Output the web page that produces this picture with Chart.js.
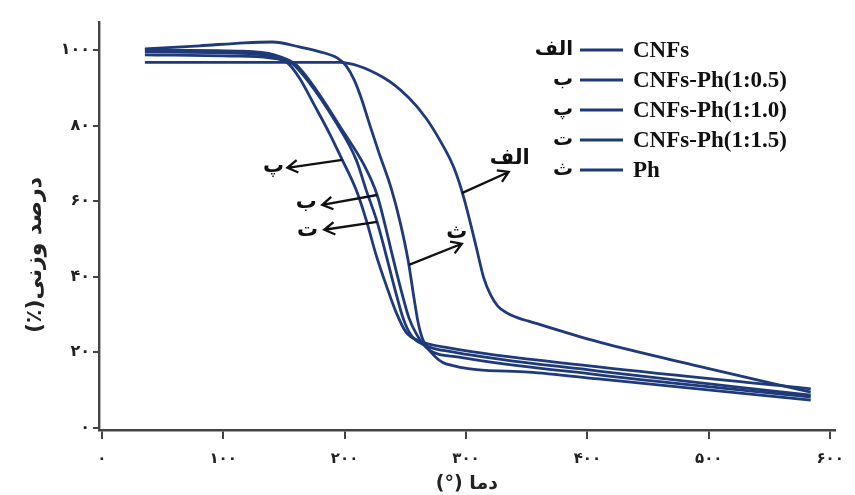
<!DOCTYPE html>
<html>
<head>
<meta charset="utf-8">
<script src="https://cdn.jsdelivr.net/npm/chart.js@4/dist/chart.umd.min.js"></script>
<style>
  html, body { margin: 0; padding: 0; background: #fff; }
</style>
</head>
<body>
<canvas id="tga" width="855" height="495"></canvas>
<script>
// series names and their Persian tags (legend + arrows)
const seriesNames = ["CNFs", "CNFs-Ph(1:0.5)", "CNFs-Ph(1:1.0)", "CNFs-Ph(1:1.5)", "Ph"];
const seriesTags = ["الف", "ب", "پ", "ت", "ث"];

// temperature (°C) / weight (%)
const tempCNFs = [35.5, 195.6, 230.9, 253.1, 267.0, 279.4, 290.1, 298.3, 308.1, 314.7, 320.4, 326.2, 333.6, 343.4, 351.6, 409.1, 491.2, 584.0];
const massCNFs = [96.7, 96.7, 92.9, 87.3, 82.0, 75.6, 68.8, 60.8, 48.3, 39.6, 35.1, 32.2, 30.4, 29.0, 28.2, 22.7, 16.3, 9.4];

const tempB = [35.5, 113.5, 142.2, 160.3, 176.7, 198.1, 216.1, 226.8, 233.4, 239.9, 246.5, 253.1, 259.7, 269.5, 294.1, 409.1, 584.0];
const massB = [100.0, 99.7, 98.7, 96.0, 89.4, 78.8, 69.5, 61.6, 53.6, 44.9, 36.5, 29.0, 24.5, 20.6, 18.7, 14.0, 8.1];

const tempP = [35.5, 105.3, 138.1, 152.9, 162.8, 175.1, 187.4, 198.1, 209.6, 217.8, 226.0, 234.2, 242.4, 250.6, 261.3, 285.9, 409.1, 584.0];
const massP = [98.7, 98.4, 97.9, 96.6, 92.6, 85.4, 78.0, 70.9, 62.9, 55.0, 45.7, 37.8, 30.6, 25.3, 23.0, 21.1, 16.1, 10.3];

const tempT = [35.5, 105.3, 139.8, 156.2, 171.0, 193.1, 209.6, 217.8, 226.8, 234.2, 241.6, 248.2, 254.7, 265.4, 290.0, 409.1, 584.0];
const massT = [99.5, 99.2, 98.4, 96.6, 91.3, 80.7, 70.9, 62.9, 54.5, 45.7, 36.5, 29.0, 24.5, 21.9, 20.0, 15.0, 8.6];

const tempPh = [35.5, 80.6, 117.6, 140.6, 162.8, 183.3, 193.9, 201.3, 207.9, 213.7, 220.2, 228.4, 238.3, 245.7, 252.3, 257.2, 260.5, 264.6, 271.1, 283.5, 351.6, 409.1, 584.0];
const massPh = [100.3, 101.1, 101.9, 102.1, 100.8, 99.2, 97.9, 95.8, 92.1, 87.3, 80.7, 72.7, 63.5, 54.5, 44.4, 34.3, 28.0, 23.2, 20.0, 16.9, 14.7, 12.9, 7.3];

// tick values and their labels
const xTicks = [0, 100, 200, 300, 400, 500, 600];
const xTickLabels = ["۰", "۱۰۰", "۲۰۰", "۳۰۰", "۴۰۰", "۵۰۰", "۶۰۰"];
const yTicks = [0, 20, 40, 60, 80, 100];
const yTickLabels = ["۰", "۲۰", "۴۰", "۶۰", "۸۰", "۱۰۰"];
const yTitle = "درصد وزنی(٪)\u200F";

// arrows: tag, point on curve, arrow tip, tag position (data units)
const arrowTags = ["پ", "ب", "ت", "الف", "ث"];
const arrowFromX = [198.1, 226.8, 226.8, 296.6, 253.0];
const arrowFromY = [70.9, 61.6, 54.5, 62.1, 43.1];
const arrowToX = [152.9, 181.6, 183.3, 335.2, 296.6];
const arrowToY = [68.8, 59.0, 52.4, 67.7, 48.7];
const tagX = [141.5, 168.5, 169.5, 336.0, 292.5];
const tagY = [69.2, 59.6, 52.2, 71.2, 51.6];

const lineColor = "#1f3a7a";
const axisColor = "#444";

function pairs(xs, ys) {
  return xs.map((x, i) => ({ x: x, y: ys[i] }));
}

const seriesData = [
  pairs(tempCNFs, massCNFs),
  pairs(tempB, massB),
  pairs(tempP, massP),
  pairs(tempT, massT),
  pairs(tempPh, massPh)
];

const extras = {
  id: "extras",
  afterDraw(chart) {
    const ctx = chart.ctx;
    const xs = chart.scales.x, ys = chart.scales.y;
    ctx.save();
    ctx.direction = "ltr";

    // y axis title, a little lower than the scale centre like the original
    ctx.save();
    ctx.translate(35, 255);
    ctx.rotate(-Math.PI / 2);
    ctx.font = "bold 22px 'DejaVu Sans'";
    ctx.fillStyle = "#222";
    ctx.textAlign = "center";
    ctx.textBaseline = "middle";
    ctx.fillText(yTitle, 0, 0);
    ctx.restore();

    // legend
    for (let i = 0; i < seriesNames.length; i++) {
      const y = 50 + i * 30;
      ctx.font = "bold 20px 'DejaVu Sans'";
      ctx.fillStyle = "#111";
      ctx.textAlign = "right";
      ctx.textBaseline = "middle";
      ctx.fillText(seriesTags[i], 573, y);
      ctx.strokeStyle = lineColor;
      ctx.lineWidth = 3;
      ctx.beginPath();
      ctx.moveTo(580, y);
      ctx.lineTo(623, y);
      ctx.stroke();
      ctx.font = "bold 23px 'Liberation Serif'";
      ctx.textAlign = "left";
      ctx.fillText(seriesNames[i], 633, y + 1);
    }

    // arrows
    ctx.strokeStyle = "#111";
    ctx.fillStyle = "#111";
    ctx.lineWidth = 2.3;
    for (let i = 0; i < arrowTags.length; i++) {
      const x0 = xs.getPixelForValue(arrowFromX[i]), y0 = ys.getPixelForValue(arrowFromY[i]);
      const x1 = xs.getPixelForValue(arrowToX[i]), y1 = ys.getPixelForValue(arrowToY[i]);
      const a = Math.atan2(y1 - y0, x1 - x0);
      ctx.beginPath();
      ctx.moveTo(x0, y0);
      ctx.lineTo(x1, y1);
      ctx.moveTo(x1 - 12 * Math.cos(a - 0.55), y1 - 12 * Math.sin(a - 0.55));
      ctx.lineTo(x1, y1);
      ctx.lineTo(x1 - 12 * Math.cos(a + 0.55), y1 - 12 * Math.sin(a + 0.55));
      ctx.stroke();
      ctx.font = "bold 21px 'DejaVu Sans'";
      ctx.textAlign = "center";
      ctx.textBaseline = "middle";
      ctx.fillText(arrowTags[i], xs.getPixelForValue(tagX[i]), ys.getPixelForValue(tagY[i]));
    }
    ctx.restore();
  }
};

new Chart(document.getElementById("tga"), {
  type: "line",
  data: {
    datasets: seriesData.map((d, i) => ({
      label: seriesNames[i],
      data: d,
      borderColor: lineColor,
      borderWidth: 2.8,
      pointRadius: 0,
      fill: false,
      cubicInterpolationMode: "monotone"
    }))
  },
  options: {
    responsive: false,
    animation: false,
    layout: { padding: { top: 22, right: 18, left: 0, bottom: 0 } },
    plugins: { legend: { display: false }, tooltip: { enabled: false } },
    scales: {
      x: {
        type: "linear",
        min: -2.3,
        max: 603.7,
        afterBuildTicks: s => { s.ticks = xTicks.map(v => ({ value: v })); },
        afterFit: s => { s.height = 65; },
        ticks: {
          autoSkip: false,
          maxRotation: 0,
          padding: 11,
          color: "#222",
          font: { family: "DejaVu Sans", weight: "bold", size: 15 },
          callback: v => xTickLabels[xTicks.indexOf(v)]
        },
        grid: { drawOnChartArea: false, tickLength: 9, color: axisColor, lineWidth: 2 },
        border: { color: axisColor, width: 2.4 },
        title: {
          display: true,
          text: "دما (°)\u200F",
          color: "#222",
          font: { family: "DejaVu Sans", weight: "bold", size: 19 },
          padding: { top: 0, bottom: 0 }
        }
      },
      y: {
        min: -0.61,
        max: 107.4,
        afterBuildTicks: s => { s.ticks = yTicks.map(v => ({ value: v })); },
        afterFit: s => { s.width = 99; },
        ticks: {
          padding: 3,
          color: "#222",
          font: { family: "DejaVu Sans", weight: "bold", size: 16 },
          callback: v => yTickLabels[yTicks.indexOf(v)]
        },
        grid: { drawOnChartArea: false, tickLength: 6, color: axisColor, lineWidth: 2 },
        border: { color: axisColor, width: 2.4 }
      }
    }
  },
  plugins: [extras]
});
</script>
</body>
</html>
